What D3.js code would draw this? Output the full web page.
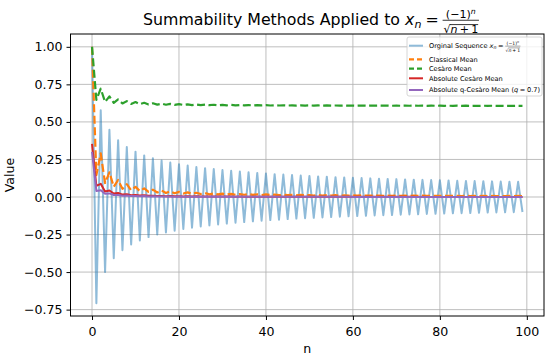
<!DOCTYPE html>
<html>
<head>
<meta charset="utf-8">
<script src="https://cdn.jsdelivr.net/npm/d3@7"></script>
<style>
body { margin: 0; background: #fff; }
text { font-family: "DejaVu Sans", sans-serif; fill: #000; }
</style>
</head>
<body>
<div id="chart"></div>
<script>
// n = 0..99
var nValues = d3.range(0, 100);

// x_n = (-1)^n / sqrt(n+1)
var original = [
 1.000,-0.707, 0.577,-0.500, 0.447,-0.408, 0.378,-0.354, 0.333,-0.316,
 0.302,-0.289, 0.277,-0.267, 0.258,-0.250, 0.243,-0.236, 0.229,-0.224,
 0.218,-0.213, 0.209,-0.204, 0.200,-0.196, 0.192,-0.189, 0.186,-0.183,
 0.180,-0.177, 0.174,-0.171, 0.169,-0.167, 0.164,-0.162, 0.160,-0.158,
 0.156,-0.154, 0.152,-0.151, 0.149,-0.147, 0.146,-0.144, 0.143,-0.141,
 0.140,-0.139, 0.137,-0.136, 0.135,-0.134, 0.132,-0.131, 0.130,-0.129,
 0.128,-0.127, 0.126,-0.125, 0.124,-0.123, 0.122,-0.121, 0.120,-0.120,
 0.119,-0.118, 0.117,-0.116, 0.115,-0.115, 0.114,-0.113, 0.113,-0.112,
 0.111,-0.110, 0.110,-0.109, 0.108,-0.108, 0.107,-0.107, 0.106,-0.105,
 0.105,-0.104, 0.104,-0.103, 0.103,-0.102, 0.102,-0.101, 0.101,-0.100];

var classical = [
 1.000, 0.146, 0.290, 0.093, 0.164, 0.068, 0.113, 0.054, 0.085, 0.045,
 0.068, 0.039, 0.057, 0.034, 0.049, 0.030, 0.043, 0.027, 0.038, 0.025,
 0.034, 0.023, 0.031, 0.021, 0.028, 0.020, 0.026, 0.018, 0.024, 0.017,
 0.022, 0.016, 0.021, 0.015, 0.020, 0.015, 0.019, 0.014, 0.018, 0.013,
 0.017, 0.013, 0.016, 0.012, 0.015, 0.012, 0.014, 0.011, 0.014, 0.011,
 0.013, 0.010, 0.013, 0.010, 0.012, 0.010, 0.012, 0.009, 0.011, 0.009,
 0.011, 0.009, 0.011, 0.009, 0.010, 0.008, 0.010, 0.008, 0.010, 0.008,
 0.009, 0.008, 0.009, 0.007, 0.009, 0.007, 0.009, 0.007, 0.008, 0.007,
 0.008, 0.007, 0.008, 0.007, 0.008, 0.006, 0.008, 0.006, 0.007, 0.006,
 0.007, 0.006, 0.007, 0.006, 0.007, 0.006, 0.007, 0.006, 0.007, 0.006];

var cesaro = [
 1.0000, 0.6465, 0.7210, 0.6333, 0.6702, 0.6267, 0.6496, 0.6226, 0.6386, 0.6198,
 0.6319, 0.6179, 0.6273, 0.6163, 0.6240, 0.6152, 0.6216, 0.6142, 0.6197, 0.6134,
 0.6181, 0.6127, 0.6169, 0.6122, 0.6158, 0.6117, 0.6150, 0.6113, 0.6142, 0.6109,
 0.6136, 0.6105, 0.6130, 0.6102, 0.6125, 0.6100, 0.6121, 0.6097, 0.6117, 0.6095,
 0.6113, 0.6093, 0.6110, 0.6091, 0.6107, 0.6090, 0.6104, 0.6088, 0.6102, 0.6087,
 0.6100, 0.6085, 0.6098, 0.6084, 0.6096, 0.6083, 0.6094, 0.6082, 0.6093, 0.6081,
 0.6091, 0.6080, 0.6090, 0.6079, 0.6088, 0.6078, 0.6087, 0.6078, 0.6086, 0.6077,
 0.6085, 0.6076, 0.6084, 0.6075, 0.6083, 0.6075, 0.6082, 0.6074, 0.6081, 0.6074,
 0.6080, 0.6073, 0.6079, 0.6072, 0.6079, 0.6072, 0.6078, 0.6071, 0.6077, 0.6071,
 0.6077, 0.6071, 0.6076, 0.6070, 0.6075, 0.6070, 0.6075, 0.6069, 0.6074, 0.6069];

var absCesaro = [
 0.3536, 0.0746, 0.0877, 0.0368, 0.0435, 0.0229, 0.0270, 0.0160, 0.0188, 0.0120,
 0.0140, 0.0095, 0.0110, 0.0077, 0.0089, 0.0064, 0.0074, 0.0055, 0.0063, 0.0047,
 0.0054, 0.0041, 0.0047, 0.0037, 0.0042, 0.0033, 0.0037, 0.0030, 0.0033, 0.0027,
 0.0031, 0.0025, 0.0028, 0.0023, 0.0025, 0.0021, 0.0024, 0.0020, 0.0022, 0.0018,
 0.0020, 0.0017, 0.0019, 0.0016, 0.0017, 0.0015, 0.0016, 0.0014, 0.0015, 0.0013,
 0.0015, 0.0013, 0.0014, 0.0012, 0.0013, 0.0011, 0.0012, 0.0011, 0.0012, 0.0010,
 0.0011, 0.0010, 0.0011, 0.0009, 0.0010, 0.0009, 0.0009, 0.0008, 0.0009, 0.0008,
 0.0009, 0.0008, 0.0008, 0.0008, 0.0008, 0.0007, 0.0008, 0.0007, 0.0007, 0.0007,
 0.0007, 0.0006, 0.0007, 0.0006, 0.0007, 0.0006, 0.0006, 0.0006, 0.0006, 0.0006,
 0.0006, 0.0005, 0.0006, 0.0005, 0.0005, 0.0005, 0.0005, 0.0005, 0.0005, 0.0005];

var absQCesaro = [
 0.300, 0.040, 0.045, 0.022, 0.024, 0.013, 0.014, 0.009, 0.010, 0.007,
 0.007, 0.005, 0.006, 0.004, 0.005, 0.003, 0.004, 0.003, 0.003, 0.002,
 0.003, 0.002, 0.002, 0.002, 0.002, 0.002, 0.002, 0.002, 0.002, 0.001,
 0.001, 0.001, 0.001, 0.001, 0.001, 0.001, 0.001, 0.001, 0.001, 0.001,
 0.001, 0.001, 0.001, 0.001, 0.001, 0.001, 0.001, 0.001, 0.001, 0.001,
 0.001, 0.001, 0.001, 0.001, 0.001, 0.001, 0.001, 0.001, 0.001, 0.001,
 0.0005, 0.0005, 0.0005, 0.0005, 0.0005, 0.0005, 0.0005, 0.0005, 0.0005, 0.0005,
 0.0005, 0.0005, 0.0005, 0.0005, 0.0005, 0.0005, 0.0005, 0.0005, 0.0005, 0.0005,
 0.0005, 0.0005, 0.0005, 0.0005, 0.0005, 0.0005, 0.0005, 0.0005, 0.0005, 0.0005,
 0.0005, 0.0005, 0.0005, 0.0005, 0.0005, 0.0005, 0.0005, 0.0005, 0.0005, 0.0005];

var xTicks = [0, 20, 40, 60, 80, 100];
var yTicks = [-0.75, -0.50, -0.25, 0.00, 0.25, 0.50, 0.75, 1.00];

var seriesList = [
  { name: "Orginal Sequence", values: original,   color: "#1f77b4", opacity: 0.5, dash: null, width: 2 },
  { name: "Classical Mean",   values: classical,  color: "#ff7f0e", opacity: 1, dash: "8,3.5", width: 2.2 },
  { name: "Cesàro Mean",      values: cesaro,     color: "#2ca02c", opacity: 1, dash: "8,3.5", width: 2.2 },
  { name: "Absolute Cesàro Mean", values: absCesaro, color: "#d62728", opacity: 1, dash: null, width: 2 },
  { name: "Absolute q-Cesàro Mean", values: absQCesaro, color: "#9467bd", opacity: 1, dash: null, width: 2 }
];

var width = 550, height = 358;
var plot = { left: 70.5, right: 544, top: 34, bottom: 316 };

var svg = d3.select("#chart").append("svg")
    .attr("width", width)
    .attr("height", height);

var x = d3.scaleLinear().domain([-4.95, 103.95]).range([plot.left, plot.right]);
var y = d3.scaleLinear().domain([-0.7925, 1.0854]).range([plot.bottom, plot.top]);

// grid
var grid = svg.append("g").attr("class", "grid");
grid.selectAll("line.vx").data(xTicks).enter().append("line")
    .attr("x1", function(d) { return x(d); }).attr("x2", function(d) { return x(d); })
    .attr("y1", plot.top).attr("y2", plot.bottom)
    .style("stroke", "#b0b0b0").style("stroke-width", 1).style("opacity", 0.8);
grid.selectAll("line.hy").data(yTicks).enter().append("line")
    .attr("y1", function(d) { return y(d); }).attr("y2", function(d) { return y(d); })
    .attr("x1", plot.left).attr("x2", plot.right)
    .style("stroke", "#b0b0b0").style("stroke-width", 1).style("opacity", 0.8);

svg.append("clipPath").attr("id", "clip").append("rect")
    .attr("x", plot.left).attr("y", plot.top)
    .attr("width", plot.right - plot.left).attr("height", plot.bottom - plot.top);

var line = d3.line()
    .x(function(d, i) { return x(nValues[i]); })
    .y(function(d) { return y(d); });

svg.append("g").attr("clip-path", "url(#clip)")
  .selectAll("path.series").data(seriesList).enter().append("path")
    .attr("class", "series")
    .attr("d", function(s) { return line(s.values); })
    .style("fill", "none")
    .style("stroke", function(s) { return s.color; })
    .style("stroke-opacity", function(s) { return s.opacity; })
    .style("stroke-width", function(s) { return s.width; })
    .style("stroke-dasharray", function(s) { return s.dash; })
    .style("stroke-linejoin", "round");

// axes
var xAxis = svg.append("g")
    .attr("transform", "translate(0," + plot.bottom + ")")
    .call(d3.axisBottom(x).tickValues(xTicks).tickSize(4).tickPadding(7).tickFormat(d3.format("d")));
var yAxis = svg.append("g")
    .attr("transform", "translate(" + plot.left + ",0)")
    .call(d3.axisLeft(y).tickValues(yTicks).tickSize(4).tickPadding(4).tickFormat(d3.format(".2f")));
[xAxis, yAxis].forEach(function(a) {
  a.select(".domain").remove();
  a.selectAll("line").style("stroke", "#000").style("stroke-width", 1);
  a.selectAll("text").style("font-size", "12.6px").style("font-family", "DejaVu Sans").style("fill", "#000");
});

svg.append("rect")
    .attr("x", plot.left).attr("y", plot.top)
    .attr("width", plot.right - plot.left).attr("height", plot.bottom - plot.top)
    .style("fill", "none").style("stroke", "#000").style("stroke-width", 1);

svg.append("text").attr("x", (plot.left + plot.right) / 2).attr("y", 353)
    .attr("text-anchor", "middle").style("font-size", "12.6px").text("n");
svg.append("text")
    .attr("transform", "translate(14," + (plot.top + plot.bottom) / 2 + ") rotate(-90)")
    .attr("text-anchor", "middle").style("font-size", "12.6px").text("Value");

// write a run of text and return where it ends
function run(parent, px, py, str, size, italic) {
  var t = parent.append("text").attr("x", px).attr("y", py)
      .style("font-size", size + "px")
      .style("font-style", italic ? "italic" : "normal")
      .text(str);
  return px + t.node().getComputedTextLength();
}

// x_n = (-1)^n / sqrt(n+1), drawn piece by piece
function formula(parent, px, py, fs) {
  var cx = run(parent, px, py, "x", fs, true);
  cx = run(parent, cx, py + fs * 0.2, "n", fs * 0.7, true);
  cx += fs * 0.25;
  cx = run(parent, cx, py, "=", fs, false);
  cx += fs * 0.25;
  var f = fs * 0.7;
  var num = parent.append("g"), den = parent.append("g");
  var nx = run(num, 0, py - fs * 0.42, "(−1)", f, false);
  nx = run(num, nx, py - fs * 0.42 - f * 0.4, "n", f * 0.7, true);
  var dx = run(den, 0, py + fs * 0.52, "√", f, false);
  var rootX = dx;
  dx = run(den, dx, py + fs * 0.52, "n", f, true);
  dx += f * 0.2;
  dx = run(den, dx, py + fs * 0.52, "+", f, false);
  dx += f * 0.2;
  dx = run(den, dx, py + fs * 0.52, "1", f, false);
  den.append("line").attr("x1", rootX - f * 0.05).attr("x2", dx)
      .attr("y1", py + fs * 0.52 - f * 0.78).attr("y2", py + fs * 0.52 - f * 0.78)
      .style("stroke", "#000").style("stroke-width", fs * 0.05);
  var w = Math.max(nx, dx) + fs * 0.1;
  num.attr("transform", "translate(" + (cx + (w - nx) / 2) + ",0)");
  den.attr("transform", "translate(" + (cx + (w - dx) / 2) + ",0)");
  parent.append("line").attr("x1", cx).attr("x2", cx + w)
      .attr("y1", py - fs * 0.3).attr("y2", py - fs * 0.3)
      .style("stroke", "#000").style("stroke-width", fs * 0.05);
  return cx + w;
}

// title
var tfs = 15.8;
var title = svg.append("g");
var tEnd = run(title, 0, 25, "Summability Methods Applied to", tfs, false);
tEnd = formula(title, tEnd + tfs * 0.32, 25, tfs);
title.attr("transform", "translate(143,0)");

// legend
var legend = svg.append("g");
legend.append("rect")
    .attr("x", 407).attr("y", 37).attr("width", 135).attr("height", 59).attr("rx", 2)
    .style("fill", "#fff").style("fill-opacity", 0.8)
    .style("stroke", "#cccccc").style("stroke-width", 0.8);
var rowY = [45.7, 59.3, 68.7, 78.3, 90];
var lfs = 6.6;
seriesList.forEach(function(s, i) {
  legend.append("line")
      .attr("x1", 409).attr("x2", 423).attr("y1", rowY[i]).attr("y2", rowY[i])
      .style("stroke", s.color).style("stroke-opacity", s.opacity)
      .style("stroke-width", s.width)
      .style("stroke-dasharray", s.dash ? "5,3" : null);
  var tx = run(legend, 429, rowY[i] + lfs * 0.36, s.name, lfs, false);
  if (i === 0) {
    formula(legend, tx + lfs * 0.32, rowY[i] + lfs * 0.36, lfs);
  }
  if (i === 4) {
    var qx = run(legend, tx + lfs * 0.32, rowY[i] + lfs * 0.36, "(", lfs, false);
    qx = run(legend, qx, rowY[i] + lfs * 0.36, "q", lfs, true);
    qx = run(legend, qx + lfs * 0.25, rowY[i] + lfs * 0.36, "=", lfs, false);
    qx = run(legend, qx + lfs * 0.25, rowY[i] + lfs * 0.36, "0.7)", lfs, false);
  }
});
</script>
</body>
</html>
